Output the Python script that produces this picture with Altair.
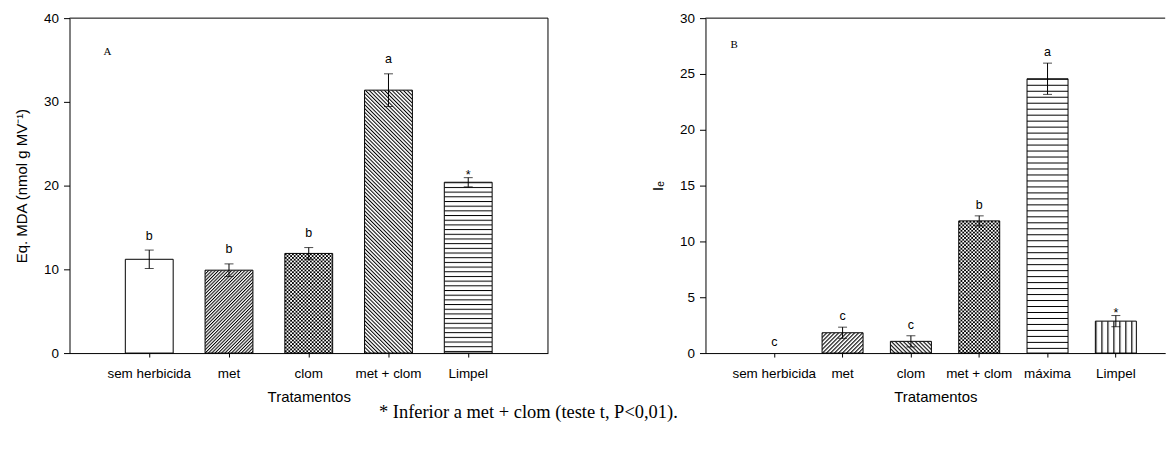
import base64
import altair as alt
import pandas as pd

# ---------------- data ----------------
left_cats = ["sem herbicida", "met", "clom", "met + clom", "Limpel"]
left_mean = [11.2, 9.9, 11.9, 31.4, 20.4]
left_se = [1.1, 0.75, 0.7, 1.95, 0.55]
left_letters = ["b", "b", "b", "a", "*"]
left_pattern = ["none", "fwd", "cross", "back", "horiz"]

right_cats = ["sem herbicida", "met", "clom", "met + clom", "máxima", "Limpel"]
right_mean = [0.0, 1.82, 1.05, 11.84, 24.57, 2.86]
right_se = [0.0, 0.5, 0.5, 0.45, 1.4, 0.5]
right_letters = ["c", "c", "c", "b", "a", "*"]
right_pattern = ["none", "fwd", "back", "cross", "horiz", "vert"]

left_ticks = [0, 10, 20, 30, 40]
right_ticks = [0, 5, 10, 15, 20, 25, 30]

FOOTNOTE = "* Inferior a met + clom (teste t, P<0,01)."

# ---------------- style ----------------
H = 336
SANS = "Liberation Sans"
SERIF = "Liberation Serif"


def hatch_uri(kind, w, h, p, lw):
    """Small SVG image holding a hatch pattern, used as the bar's fill texture."""
    if kind == "horiz":
        pat = (f'<pattern id="p" patternUnits="userSpaceOnUse" width="{w}" height="{p}">'
               f'<rect x="0" y="0" width="{w}" height="{lw}" fill="#000"/></pattern>')
    elif kind == "vert":
        pat = (f'<pattern id="p" patternUnits="userSpaceOnUse" width="{p}" height="{h}">'
               f'<rect x="0" y="0" width="{lw}" height="{h}" fill="#000"/></pattern>')
    elif kind in ("fwd", "back"):
        pp = p / 2 ** 0.5
        ang = 45 if kind == "fwd" else -45
        pat = (f'<pattern id="p" patternUnits="userSpaceOnUse" width="{pp}" height="{pp}" '
               f'patternTransform="rotate({ang})">'
               f'<rect x="0" y="0" width="{lw}" height="{pp}" fill="#000"/></pattern>')
    else:  # checker
        pat = (f'<pattern id="p" patternUnits="userSpaceOnUse" width="{2 * p}" height="{2 * p}">'
               f'<rect x="0" y="0" width="{p}" height="{p}" fill="#000"/>'
               f'<rect x="{p}" y="{p}" width="{p}" height="{p}" fill="#000"/></pattern>')
    svg = (f'<svg xmlns="http://www.w3.org/2000/svg" width="{w}" height="{h}" '
           f'viewBox="0 0 {w} {h}"><defs>{pat}</defs>'
           f'<rect width="{w}" height="{h}" fill="#fff"/>'
           f'<rect width="{w}" height="{h}" fill="url(#p)"/></svg>')
    return "data:image/svg+xml;base64," + base64.b64encode(svg.encode()).decode()


def panel(cats, mean, se, letters, pattern, ymax, ticks, ytitle, tag, tagpos,
          hatch, letter_dy, width, pad_in, pad_out, align, right_border):
    df = pd.DataFrame({
        "cat": cats, "mean": mean, "se": se, "letter": letters,
        "hi": [m + s for m, s in zip(mean, se)],
        "lo": [m - s for m, s in zip(mean, se)],
        "mid": [m / 2 for m in mean],
    })
    n = len(cats)
    step = width / (n - pad_in + 2 * pad_out)
    bw = step * (1 - pad_in)
    ppu = H / ymax

    x = alt.X("cat:N", sort=cats, title="Tratamentos",
              scale=alt.Scale(paddingInner=pad_in, paddingOuter=pad_out, align=align),
              axis=alt.Axis(labelAngle=0, tickSize=4, labelPadding=10,
                            titlePadding=9))
    yscale = alt.Scale(domain=[0, ymax], nice=False, zero=True)
    y = alt.Y("mean:Q", title=ytitle, scale=yscale,
              axis=alt.Axis(values=ticks, tickSize=6, labelPadding=5,
                            titlePadding=14, grid=False))
    base = alt.Chart(df)
    layers = [base.transform_filter(alt.datum.mean > 0)
              .mark_bar(fill="#ffffff", strokeWidth=0).encode(x=x, y=y)]
    for c, m, pat in zip(cats, mean, pattern):
        if m <= 0 or pat == "none":
            continue
        h = m * ppu
        kind, p, lw = hatch[pat]
        uri = hatch_uri(kind, round(bw, 2), round(h, 2), p, lw)
        layers.append(base.transform_filter(alt.datum.cat == c)
                      .mark_image(width=round(bw, 2), height=round(h, 2),
                                  aspect=False, align="center", baseline="middle")
                      .encode(x=x, y=alt.Y("mid:Q", scale=yscale),
                              url=alt.value(uri)))
    layers.append(base.transform_filter(alt.datum.mean > 0)
                  .mark_bar(fillOpacity=0, stroke="black", strokeWidth=1)
                  .encode(x=x, y=y))

    err = base.transform_filter(alt.datum.se > 0)
    layers.append(err.mark_rule(color="black", strokeWidth=1)
                  .encode(x=x, y="lo:Q", y2="hi:Q"))
    layers.append(err.mark_tick(color="black", size=9, thickness=1)
                  .encode(x=x, y="hi:Q"))
    layers.append(err.mark_tick(color="black", size=9, thickness=1)
                  .encode(x=x, y="lo:Q"))
    layers.append(base.transform_filter(alt.datum.letter != "*")
                  .mark_text(font=SANS, fontSize=12.5, color="black",
                             baseline="alphabetic", dy=letter_dy)
                  .encode(x=x, y="hi:Q", text="letter:N"))
    layers.append(base.transform_filter(alt.datum.letter == "*")
                  .mark_text(font=SANS, fontSize=12.5, color="black",
                             baseline="alphabetic", dy=1)
                  .encode(x=x, y="hi:Q", text="letter:N"))
    tagdf = pd.DataFrame({"t": [tag]})
    layers.append(alt.Chart(tagdf)
                  .mark_text(font=SERIF, fontSize=11, color="black",
                             align="center", baseline="middle")
                  .encode(x=alt.value(tagpos[0]), y=alt.value(tagpos[1]),
                          text="t:N"))
    # plot frame: top edge (and right edge where it is visible)
    layers.append(alt.Chart(tagdf).mark_rule(color="black", strokeWidth=1)
                  .encode(x=alt.value(0), x2=alt.value(width), y=alt.value(0)))
    if right_border:
        layers.append(alt.Chart(tagdf).mark_rule(color="black", strokeWidth=1)
                      .encode(x=alt.value(width), y=alt.value(0), y2=alt.value(H)))
    return alt.layer(*layers).properties(width=width, height=H)


# pattern name -> (kind, period px, line width px)
left_hatch = {"fwd": ("fwd", 3.3, 1.0), "back": ("back", 3.8, 1.0),
              "horiz": ("horiz", 4.7, 1.0), "cross": ("checker", 1.8, 0)}
right_hatch = {"fwd": ("fwd", 4.0, 1.1), "back": ("back", 4.0, 1.1),
               "horiz": ("horiz", 6.0, 1.0), "vert": ("vert", 6.0, 1.2),
               "cross": ("checker", 1.8, 0)}

left = panel(left_cats, left_mean, left_se, left_letters, left_pattern, 40,
             left_ticks, "Eq. MDA (nmol g MV⁻¹)", "A", (38, 33.5),
             left_hatch, -10.5, 480, 0.4, 0.7, 0.5, True)
right = panel(right_cats, right_mean, right_se, right_letters, right_pattern,
              30, right_ticks, "Iₑ", "B", (28.7, 27.4), right_hatch, -7,
              461.2, 0.4, 0.5646, 0.626, False)

chart = alt.hconcat(left, right, spacing=101).properties(
    padding={"left": 5.7, "top": 2.5, "right": 0, "bottom": 5},
    title=alt.TitleParams(FOOTNOTE, orient="bottom", anchor="middle",
                          font=SERIF, fontSize=18.5, fontWeight="normal",
                          color="black", offset=-1, dx=-62),
).configure_view(stroke="transparent", strokeWidth=0).configure_axis(
    labelFont=SANS, labelFontSize=13.5, labelColor="black",
    titleFont=SANS, titleFontSize=15, titleColor="black", titleFontWeight="normal",
    domainColor="black", tickColor="black", grid=False,
)

chart.save("out.html", embed_options={"renderer": "svg", "actions": False})
